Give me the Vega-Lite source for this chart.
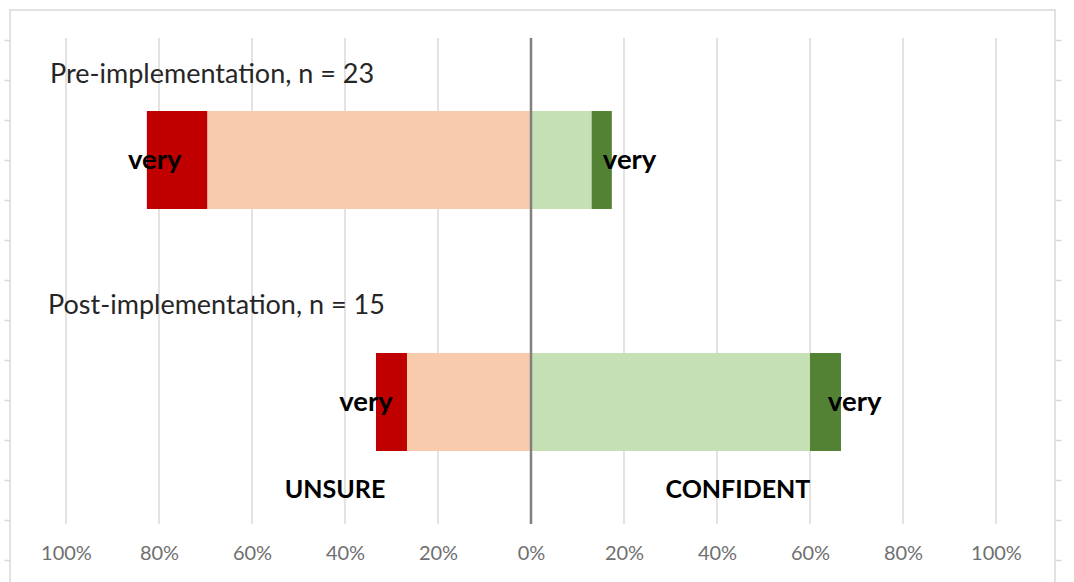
{
  "$schema": "https://vega.github.io/schema/vega-lite/v6.json",
  "width": 1045,
  "height": 574,
  "autosize": {"type": "none"},
  "padding": {"left": 10, "top": 10, "right": 19, "bottom": 0},
  "background": "white",
  "config": {
    "view": {"stroke": "#d9d9d9", "strokeWidth": 1.5},
    "font": "Lato",
    "text": {"font": "Lato"}
  },
  "datasets": {
    "responses": [
      {"group": "Pre", "level": "very unsure", "rank": 2, "share": -0.13043},
      {"group": "Pre", "level": "unsure", "rank": 1, "share": -0.69565},
      {"group": "Pre", "level": "confident", "rank": 1, "share": 0.13043},
      {"group": "Pre", "level": "very confident", "rank": 2, "share": 0.04348},
      {"group": "Post", "level": "very unsure", "rank": 2, "share": -0.06667},
      {"group": "Post", "level": "unsure", "rank": 1, "share": -0.26667},
      {"group": "Post", "level": "confident", "rank": 1, "share": 0.6},
      {"group": "Post", "level": "very confident", "rank": 2, "share": 0.06667}
    ],
    "gridlines": [
      {"pct": -1}, {"pct": -0.8}, {"pct": -0.6}, {"pct": -0.4}, {"pct": -0.2},
      {"pct": 0.2}, {"pct": 0.4}, {"pct": 0.6}, {"pct": 0.8}, {"pct": 1}
    ],
    "veryLabels": [
      {"group": "Pre", "pos": -0.809, "label": "very"},
      {"group": "Pre", "pos": 0.212, "label": "very"},
      {"group": "Post", "pos": -0.355, "label": "very"},
      {"group": "Post", "pos": 0.696, "label": "very"}
    ],
    "titles": [
      {"pos": -1.0344, "row": 13.125, "label": "Pre-implementation, n = 23"},
      {"pos": -1.0387, "row": 7.35, "label": "Post-implementation, n = 15"}
    ],
    "sides": [
      {"pos": -0.4215, "row": 2.75, "label": "UNSURE"},
      {"pos": 0.445, "row": 2.75, "label": "CONFIDENT"}
    ]
  },
  "layer": [
    {
      "data": {"name": "gridlines"},
      "mark": {"type": "rule", "color": "#d9d9d9", "strokeWidth": 1.5},
      "encoding": {
        "x": {
          "field": "pct",
          "type": "quantitative",
          "scale": {"domain": [-1.1204, 1.1269], "nice": false, "zero": false},
          "axis": {
            "values": [-1, -0.8, -0.6, -0.4, -0.2, 0, 0.2, 0.4, 0.6, 0.8, 1],
            "labelExpr": "format(abs(datum.value), '.0%')",
            "grid": false,
            "domain": false,
            "ticks": false,
            "offset": -41,
            "labelPadding": 0,
            "labelFlush": false,
            "labelFont": "Lato",
            "labelFontSize": 20,
            "labelColor": "#6f6f6f",
            "title": null
          }
        },
        "y": {
          "datum": 14.05,
          "type": "quantitative",
          "scale": {"domain": [0.4, 14.75], "nice": false, "zero": false},
          "axis": {
            "values": [1, 2, 3, 4, 5, 6, 7, 8, 9, 10, 11, 12, 13, 14],
            "labels": false,
            "domain": false,
            "grid": false,
            "tickSize": 6,
            "tickColor": "#d9d9d9",
            "tickWidth": 1.5,
            "title": null
          }
        },
        "y2": {"datum": 1.9}
      }
    },
    {
      "layer": [
        {
          "data": {"name": "responses"},
          "mark": {"type": "bar"},
          "encoding": {
            "y": {
              "field": "group",
              "type": "nominal",
              "scale": {
                "domain": ["Pre", "Post"],
                "paddingInner": 0.595,
                "paddingOuter": 0.4835,
                "align": 0.4316,
                "round": false
              },
              "axis": null
            },
            "x": {"field": "share", "type": "quantitative", "stack": "zero"},
            "color": {
              "field": "level",
              "type": "nominal",
              "scale": {
                "domain": ["very unsure", "unsure", "confident", "very confident"],
                "range": ["#C00000", "#F8CBAD", "#C5E0B4", "#548235"]
              },
              "legend": null
            },
            "order": {"field": "rank", "type": "quantitative"}
          }
        },
        {
          "data": {"name": "veryLabels"},
          "mark": {
            "type": "text",
            "font": "Lato",
            "fontSize": 27.5,
            "fontWeight": "bold",
            "color": "#000000",
            "align": "center",
            "baseline": "middle",
            "dy": 1
          },
          "encoding": {
            "y": {"field": "group", "type": "nominal"},
            "x": {"field": "pos", "type": "quantitative"},
            "text": {"field": "label"}
          }
        }
      ]
    },
    {
      "layer": [
        {
          "data": {"values": [{"pct": 0}]},
          "mark": {"type": "rule", "color": "#808080", "strokeWidth": 2.5},
          "encoding": {
            "x": {"field": "pct", "type": "quantitative"},
            "y": {
              "datum": 14.05,
              "type": "quantitative",
              "scale": {"domain": [0.4, 14.75], "nice": false, "zero": false},
              "axis": {
                "orient": "right",
                "values": [1, 2, 3, 4, 5, 6, 7, 8, 9, 10, 11, 12, 13, 14],
                "labels": false,
                "domain": false,
                "grid": false,
                "tickSize": 6,
                "tickColor": "#d9d9d9",
                "tickWidth": 1.5,
                "title": null
              }
            },
            "y2": {"datum": 1.9}
          }
        },
        {
          "data": {"name": "titles"},
          "mark": {
            "type": "text",
            "font": "Lato",
            "fontSize": 27,
            "color": "#262626",
            "align": "left",
            "baseline": "middle"
          },
          "encoding": {
            "x": {"field": "pos", "type": "quantitative"},
            "y": {"field": "row", "type": "quantitative"},
            "text": {"field": "label"}
          }
        },
        {
          "data": {"name": "sides"},
          "mark": {
            "type": "text",
            "font": "Lato",
            "fontSize": 25,
            "fontWeight": "bold",
            "color": "#000000",
            "align": "center",
            "baseline": "middle"
          },
          "encoding": {
            "x": {"field": "pos", "type": "quantitative"},
            "y": {"field": "row", "type": "quantitative"},
            "text": {"field": "label"}
          }
        }
      ]
    }
  ],
  "resolve": {"scale": {"y": "independent"}}
}
